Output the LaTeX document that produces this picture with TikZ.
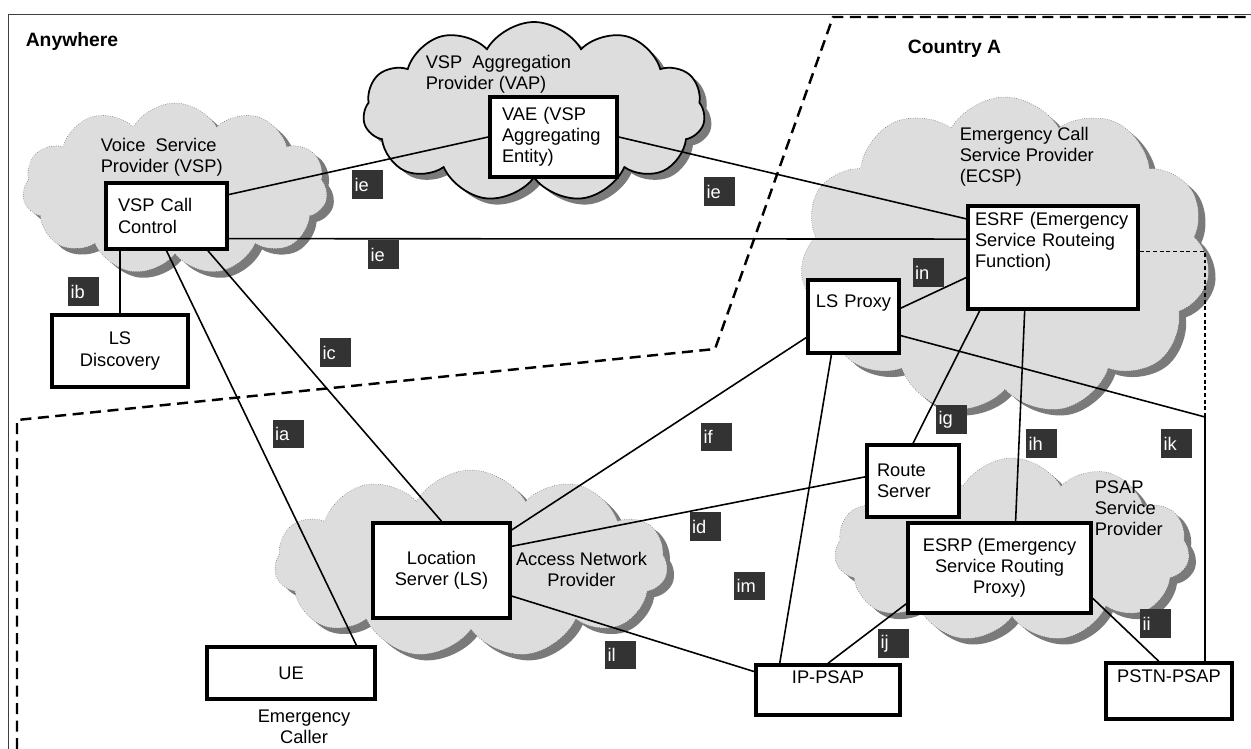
\documentclass[tikz,border=0pt]{standalone}
\usepackage{fontspec}
\setmainfont{Liberation Sans}
\usetikzlibrary{shapes.symbols}
\definecolor{etiq}{HTML}{333333}
\definecolor{nubegris}{HTML}{DDDDDD}
\definecolor{sombra}{HTML}{7A7A7A}
\begin{document}
\begin{tikzpicture}[x=0.02cm,y=-0.02cm,line width=0.9pt,black,font=\fontsize{10.4}{12}\selectfont]
	\tikzset{bloque/.style={draw=black, rectangle, fill=white, line width=2pt, inner sep=0pt, align=center},
		formanube/.style={cloud, cloud puffs=11, cloud puff arc=120, cloud ignores aspect},
		nube/.style={formanube, draw=gray!70!black, line width=0.3pt, densely dotted, fill=nubegris},
		sombranube/.style={formanube, draw=none, fill=sombra},
		etiqueta/.style={fill=etiq, text=white, text width=0.52cm, inner xsep=0.05cm, inner ysep=0pt, minimum height=0.58cm, align=left},
		texto/.style={inner sep=0pt, align=left, anchor=north west}}
	\useasboundingbox (0,0) rectangle (1251,749);
	\draw[line width=0.5pt, gray!50!black] (8,749) -- (8,14) -- (1251,14);
	\draw[line width=1.4pt, dash pattern=on 0.22cm off 0.13cm] (17,749) -- (17,420) -- (715,349) -- (833,17) -- (1251,17);
	\node[texto, font=\fontsize{11}{13}\selectfont\bfseries, anchor=west] at (25,42) (anywhere){Anywhere};
	\node[texto, font=\fontsize{11}{13}\selectfont\bfseries, anchor=west] at (907,49) (paisA){Country A};
	\node[sombranube, minimum width=6.1cm, minimum height=3.44cm] at (182,195) (sVSP){};
	\node[nube, minimum width=6.1cm, minimum height=3.44cm] at (175,189) (nubeVSP){};
	\node[sombranube, minimum width=6.84cm, minimum height=3.6cm] at (541,118) (sVAP){};
	\node[nube, draw=black, solid, line width=1pt, minimum width=6.84cm, minimum height=3.6cm] at (534,112) (nubeVAP){};
	\node[sombranube, minimum width=8.2cm, minimum height=6.36cm] at (1012,262) (sECSP){};
	\node[nube, minimum width=8.2cm, minimum height=6.36cm] at (1005,256) (nubeECSP){};
	\node[sombranube, minimum width=7.86cm, minimum height=3.76cm] at (478,570) (sANP){};
	\node[nube, minimum width=7.86cm, minimum height=3.76cm] at (471,564) (nubeANP){};
	\node[sombranube, minimum width=7.1cm, minimum height=3.68cm] at (1019,556) (sPSAP){};
	\node[nube, minimum width=7.1cm, minimum height=3.68cm] at (1012,550) (nubePSAP){};
	\node[texto] at (100,137) (tVSP){Voice\ \ Service\\Provider (VSP)};
	\node[texto] at (425,54) (tVAP){VSP\ \ Aggregation\\Provider (VAP)};
	\node[texto] at (959,126) (tECSP){Emergency Call\\Service Provider\\(ECSP)};
	\node[texto, align=center, anchor=north] at (581.5,551) (tANP){Access Network\\Provider};
	\node[texto] at (1094,480) (tPSAP){PSAP\\Service\\Provider};
	\node[texto, align=center, anchor=north] at (304,709) (tCaller){Emergency\\Caller};
	\node[bloque, text width=1.94cm, inner xsep=0.24cm, minimum height=1.32cm, align=left] at (166.5,216) (VSP){VSP Call\\Control};
	\node[bloque, minimum width=2.72cm, minimum height=1.44cm] at (120,351) (LSD){LS\\Discovery};
	\node[bloque, text width=2.06cm, inner xsep=0.24cm, minimum height=1.6cm, align=left] at (553.5,137) (VAE){VAE (VSP\\Aggregating\\Entity)};
	\node[bloque, text width=3.12cm, inner xsep=0.14cm, inner ysep=0.05cm, text height=0.34cm, text depth=1.62cm, align=left] at (1053,257.5) (ESRF){ESRF (Emergency\\Service Routeing\\Function)};
	\node[bloque, text width=1.72cm, inner xsep=0.05cm, inner ysep=0.05cm, text height=0.5cm, text depth=0.86cm] at (853.5,316.5) (LSP){LS Proxy};
	\node[bloque, text width=1.44cm, inner xsep=0.2cm, minimum height=1.44cm, align=left] at (913,481) (Route){Route\\Server};
	\node[bloque, minimum width=3.66cm, minimum height=1.8cm] at (999.5,568) (ESRP){ESRP (Emergency\\Service Routing\\Proxy)};
	\node[bloque, minimum width=2.74cm, minimum height=1.9cm] at (441.5,570.5) (LS){Location\\Server (LS)};
	\node[bloque, minimum width=3.36cm, minimum height=1.04cm] at (291,673) (UE){UE};
	\node[bloque, text width=2.78cm, inner xsep=0.05cm, inner ysep=0.05cm, text height=0.32cm, text depth=0.58cm] at (828,690) (IP){IP-PSAP};
	\node[bloque, text width=2.42cm, inner xsep=0.05cm, inner ysep=0.05cm, text height=0.34cm, text depth=0.68cm] at (1169,691) (PSTN){PSTN-PSAP};
	\coordinate (quiebre) at (1205,417);
	\draw (VSP.19) -- (VAE.west);
	\draw (VAE.east) -- (ESRF.156);
	\draw (VSP.-20) -- (ESRF.168);
	\draw (LSD.north) -- (LSD.north |- VSP.south);
	\draw (VSP.south) -- (UE.23);
	\draw (VSP.-40.6) -- (LS.north);
	\draw (LS.30.6) -- (LSP.204.3);
	\draw (LS.19.7) -- (Route.175);
	\draw (LS.-20.4) -- (IP.166);
	\draw (LSP.10.6) -- (ESRF.193);
	\draw (LSP.240.7) -- (IP.151.5);
	\draw (LSP.-22) -- (quiebre) -- (quiebre |- PSTN.north);
	\draw[line width=0.6pt, dash pattern=on 2.2pt off 1.6pt] (ESRF.4) -| (quiebre);
	\draw (ESRF.216) -- (Route.north);
	\draw (ESRF.242.3) -- (ESRP.71);
	\draw (ESRP.201) -- (IP.north);
	\draw (ESRP.-18.7) -- (PSTN.109.6);
	\node[etiqueta] at (367.5,184.5) (ie1){ie};
	\node[etiqueta] at (383.5,254.5) (ie2){ie};
	\node[etiqueta] at (719.5,192) (ie3){ie};
	\node[etiqueta] at (83.5,291.5) (ib){ib};
	\node[etiqueta] at (335.5,352.5) (ic){ic};
	\node[etiqueta] at (288,434) (ia){ia};
	\node[etiqueta] at (716.5,437) (if){if};
	\node[etiqueta] at (705,526.5) (id){id};
	\node[etiqueta] at (749.5,586) (im){im};
	\node[etiqueta] at (620.5,655) (il){il};
	\node[etiqueta] at (928,272.5) (in){in};
	\node[etiqueta] at (951.5,419.5) (ig){ig};
	\node[etiqueta] at (1041.5,443.5) (ih){ih};
	\node[etiqueta] at (1176.5,443.5) (ik){ik};
	\node[etiqueta] at (893.5,643.5) (ij){ij};
	\node[etiqueta] at (1155.5,623.5) (ii){ii};
\end{tikzpicture}
\end{document}
